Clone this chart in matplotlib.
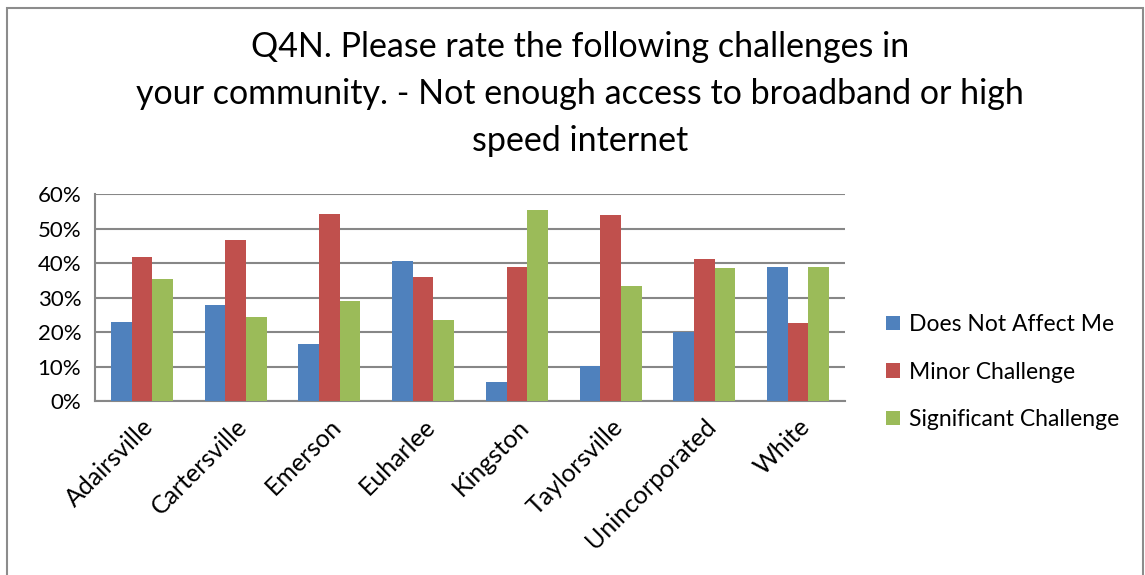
import matplotlib
matplotlib.use("Agg")
import matplotlib.pyplot as plt
import numpy as np
from matplotlib.patches import Rectangle

plt.rcParams['font.family'] = ['Lato', 'DejaVu Sans']

# data (percent)
places = ["Adairsville", "Cartersville", "Emerson", "Euharlee",
          "Kingston", "Taylorsville", "Unincorporated", "White"]
not_affect = [22.8, 27.7, 16.5, 40.5, 5.4, 10.1, 20.1, 38.7]
minor = [41.6, 46.6, 54.2, 35.8, 38.8, 53.9, 41.3, 22.6]
significant = [35.3, 24.4, 29.0, 23.6, 55.5, 33.2, 38.6, 38.7]
series_names = ["Does Not Affect Me", "Minor Challenge", "Significant Challenge"]
colors = ["#4F81BD", "#C0504D", "#9BBB59"]

fig = plt.figure(figsize=(11.45, 5.75), dpi=100)
ax = fig.add_axes([0.083, 0.3026, 0.655, 0.36])

# outer chart frame
fig.patches.append(Rectangle((7 / 1145, -0.01), 1136 / 1145, 0.9965,
                             transform=fig.transFigure, fill=False,
                             edgecolor="#8c8c8c", linewidth=1.5))

x = np.arange(len(places))
w = 0.22
for i, (vals, name) in enumerate(zip([not_affect, minor, significant], series_names)):
    ax.bar(x + (i - 1) * w, vals, width=w, color=colors[i], label=name, zorder=3)

ax.set_xlim(-0.5, len(places) - 0.5)
ax.set_ylim(0, 60)
ax.set_yticks(range(0, 61, 10))
ax.set_yticklabels([f"{v}%" for v in range(0, 61, 10)], fontsize=16)
ax.set_xticks(x)
ax.set_xticklabels(places, rotation=45, ha="right", rotation_mode="anchor", fontsize=18)
ax.tick_params(axis="both", length=0)
ax.tick_params(axis="y", pad=10)
ax.tick_params(axis="x", pad=10)
ax.yaxis.grid(True, color="#878787", linewidth=1.5, zorder=0)
for s in ["top", "right"]:
    ax.spines[s].set_visible(False)
for s in ["left", "bottom"]:
    ax.spines[s].set_color("#878787")
    ax.spines[s].set_linewidth(1.5)

fig.text(0.5066, 1 - 31 / 575, "Q4N. Please rate the following challenges in\n"
         "your community. - Not enough access to broadband or high\n"
         "speed internet", ha="center", va="top", fontsize=24.5,
         linespacing=1.58)

ax.legend(loc="center left", bbox_to_anchor=(1.027, 0.5 - 0.36), frameon=False,
          fontsize=16.5, handlelength=0.6, handleheight=0.6, handletextpad=0.4,
          labelspacing=1.15)

fig.savefig("out.png", dpi=100)
